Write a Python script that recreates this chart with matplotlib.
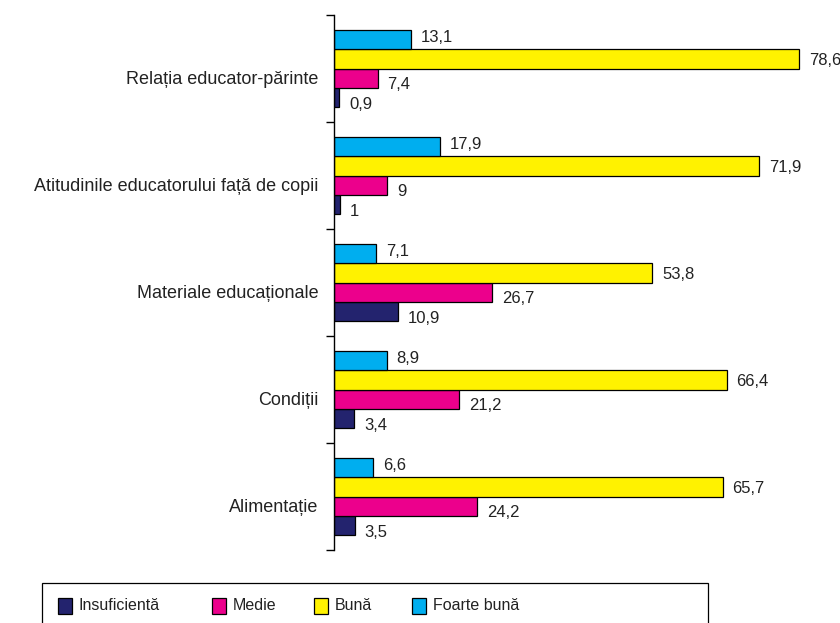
import numpy as np
import matplotlib.pyplot as plt
from matplotlib.patches import Rectangle

plt.rcParams['font.family'] = ['Liberation Sans', 'DejaVu Sans']

categories = ["Relația educator-părinte", "Atitudinile educatorului față de copii",
              "Materiale educaționale", "Condiții", "Alimentație"]
series = ["Insuficientă", "Medie", "Bună", "Foarte bună"]
insuficienta = [0.9, 1, 10.9, 3.4, 3.5]
medie = [7.4, 9, 26.7, 21.2, 24.2]
buna = [78.6, 71.9, 53.8, 66.4, 65.7]
foarte_buna = [13.1, 17.9, 7.1, 8.9, 6.6]

colors = ["#23236e", "#ec008c", "#fff200", "#00aeef"]
values = [insuficienta, medie, buna, foarte_buna]
# bar offsets inside each group (axis is inverted, so negative = higher)
offsets = [0.27, 0.09, -0.09, -0.27]
label_dy = [-7, -6, -2, 2]   # px, value labels sit a bit low
h = 0.18

W, H = 840, 623
fig = plt.figure(figsize=(W / 100, H / 100), dpi=100)
ax = fig.add_axes([334 / W, 1 - 550 / H, 1 - 334 / W, (550 - 15) / H])

y = np.arange(len(categories))
for vals, c, off, dy, name in zip(values, colors, offsets, label_dy, series):
    bars = ax.barh(y + off, vals, height=h, color=c, edgecolor="black",
                   linewidth=0.9, label=name)
    for b, v in zip(bars, vals):
        txt = ("%g" % v).replace(".", ",")
        ax.annotate(txt, (b.get_width(), b.get_y() + b.get_height() / 2),
                    xytext=(7, dy * 0.72), textcoords="offset points",
                    va="center", ha="left", fontsize=12, color="#222222",
                    annotation_clip=False)

ax.set_xlim(0, (W - 334) / 5.916)
ax.set_ylim(4.5, -0.5)
# category names sit a little below the middle of their group
ax.set_yticks(y + 0.085)
ax.set_yticklabels(categories, fontsize=13, color="#222222")
ax.set_yticks(np.arange(-0.5, 5, 1), minor=True)
ax.tick_params(axis="y", which="major", length=0, pad=11)
ax.tick_params(axis="y", which="minor", length=6, width=1, direction="out")
ax.set_xticks([])
for s in ["top", "right", "bottom"]:
    ax.spines[s].set_visible(False)
ax.spines["left"].set_linewidth(1)

# legend: frame open at the bottom edge, hand-placed entries
fig.patches.append(Rectangle((42 / W, -0.01), (708 - 42) / W, (H - 583) / H + 0.01,
                             transform=fig.transFigure, fill=False,
                             edgecolor="black", linewidth=0.9))
box_x = [58, 212, 314, 412]
for name, c, bx in zip(series, colors, box_x):
    fig.patches.append(Rectangle((bx / W, 1 - 614 / H), 14 / W, 16 / H,
                                 transform=fig.transFigure, facecolor=c,
                                 edgecolor="black", linewidth=0.9))
    fig.text((bx + 21) / W, 1 - 606 / H, name, fontsize=11.5,
             va="center", ha="left", color="#222222")

fig.savefig("out.png", dpi=100)
